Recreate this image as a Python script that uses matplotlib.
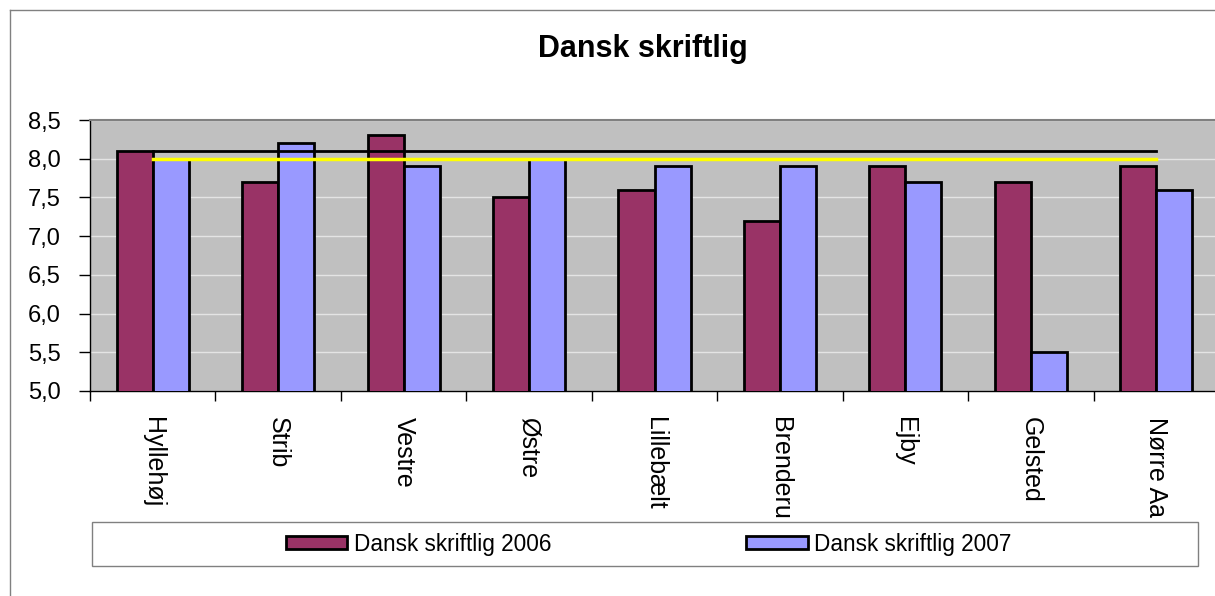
import matplotlib.pyplot as plt
from matplotlib.lines import Line2D
from matplotlib.patches import Rectangle, Patch
from matplotlib.transforms import Bbox, TransformedBbox

plt.rcParams['font.family'] = ['Liberation Sans', 'DejaVu Sans']

schools = ['Hyllehøj', 'Strib', 'Vestre', 'Østre', 'Lillebælt', 'Brenderup', 'Ejby', 'Gelsted', 'Nørre Aaby']
dansk_2006 = [8.1, 7.7, 8.3, 7.5, 7.6, 7.2, 7.9, 7.7, 7.9]
dansk_2007 = [8.0, 8.2, 7.9, 8.0, 7.9, 7.9, 7.7, 5.5, 7.6]
line_black = [8.1, 8.1, 8.1, 8.1, 8.1, 8.1, 8.1, 8.1, 8.1]
line_yellow = [8.0, 8.0, 8.0, 8.0, 8.0, 8.0, 8.0, 8.0, 8.0]
yticks = [5.0, 5.5, 6.0, 6.5, 7.0, 7.5, 8.0, 8.5]

W, H = 1215, 596
fig = plt.figure(figsize=(W / 100, H / 100), dpi=100)

# outer chart border (top and left visible)
fig.add_artist(Line2D([10 / W, 10 / W], [0, 1 - 10 / H], color='#808080', lw=1))
fig.add_artist(Line2D([10 / W, 1], [1 - 10 / H, 1 - 10 / H], color='#808080', lw=1))

ax = fig.add_axes((90 / W, 1 - 391 / H, 1129 / W, 271 / H))
ax.set_facecolor('#C0C0C0')

x = list(range(len(schools)))
bw = 0.287
ax.bar([i - bw / 2 for i in x], dansk_2006, bw, color='#993366',
       edgecolor='black', linewidth=2, zorder=3, label='Dansk skriftlig 2006')
ax.bar([i + bw / 2 for i in x], dansk_2007, bw, color='#9999FF',
       edgecolor='black', linewidth=2, zorder=3, label='Dansk skriftlig 2007')
ax.plot(x, line_black, color='black', lw=2, zorder=4)
ax.plot(x, line_yellow, color='#FFFF00', lw=2.5, zorder=4)

ax.set_xlim(-0.5, 8.5)
ax.set_ylim(5.0, 8.5)
ax.set_yticks(yticks)
ax.set_yticklabels([f'{v:.1f}'.replace('.', ',') for v in yticks], fontsize=17)
ax.yaxis.grid(True, color='#E4E4E4', lw=1, zorder=1)
ax.set_axisbelow(True)

ax.set_xticks([i + 0.5 for i in range(-1, len(schools))])
ax.set_xticklabels([])
ax.set_xticks(x, minor=True)
ax.set_xticklabels(schools, minor=True, rotation=-90, fontsize=18,
                   va='top', ha='center')
ax.tick_params(axis='x', which='major', direction='out', length=7, width=1)
ax.tick_params(axis='x', which='minor', length=0, pad=19)
ax.tick_params(axis='y', direction='out', length=8, width=1, pad=13)

for s in ['left', 'bottom']:
    ax.spines[s].set_color('black')
    ax.spines[s].set_linewidth(1)
ax.spines['top'].set_color('#808080')
ax.spines['top'].set_linewidth(1.5)
ax.spines['right'].set_visible(False)

# clip category labels above the legend area, like the original
clip = TransformedBbox(Bbox([[0, 77 / H], [1, 1]]), fig.transFigure)
for t in ax.get_xticklabels(minor=True):
    t.set_clip_on(True)
    t.set_clip_box(clip)

fig.text(643 / W, 1 - 49 / H, 'Dansk skriftlig', ha='center', va='center',
         fontsize=22, fontweight='bold')

# legend frame
fig.add_artist(Rectangle((92 / W, 1 - 566 / H), 1106 / W, 44 / H,
                         transform=fig.transFigure, facecolor='white',
                         edgecolor='#808080', lw=1))
handles = [Patch(facecolor='#993366', edgecolor='black', lw=2),
           Patch(facecolor='#9999FF', edgecolor='black', lw=2)]
fig.legend(handles, ['Dansk skriftlig 2006', 'Dansk skriftlig 2007'],
           loc='center', bbox_to_anchor=(649 / W, 1 - 544 / H), ncol=2,
           frameon=False, fontsize=16.3, handlelength=2.7, handleheight=0.55,
           handletextpad=0.3, columnspacing=8.6)

plt.savefig('out.png', dpi=100)
plt.close()
